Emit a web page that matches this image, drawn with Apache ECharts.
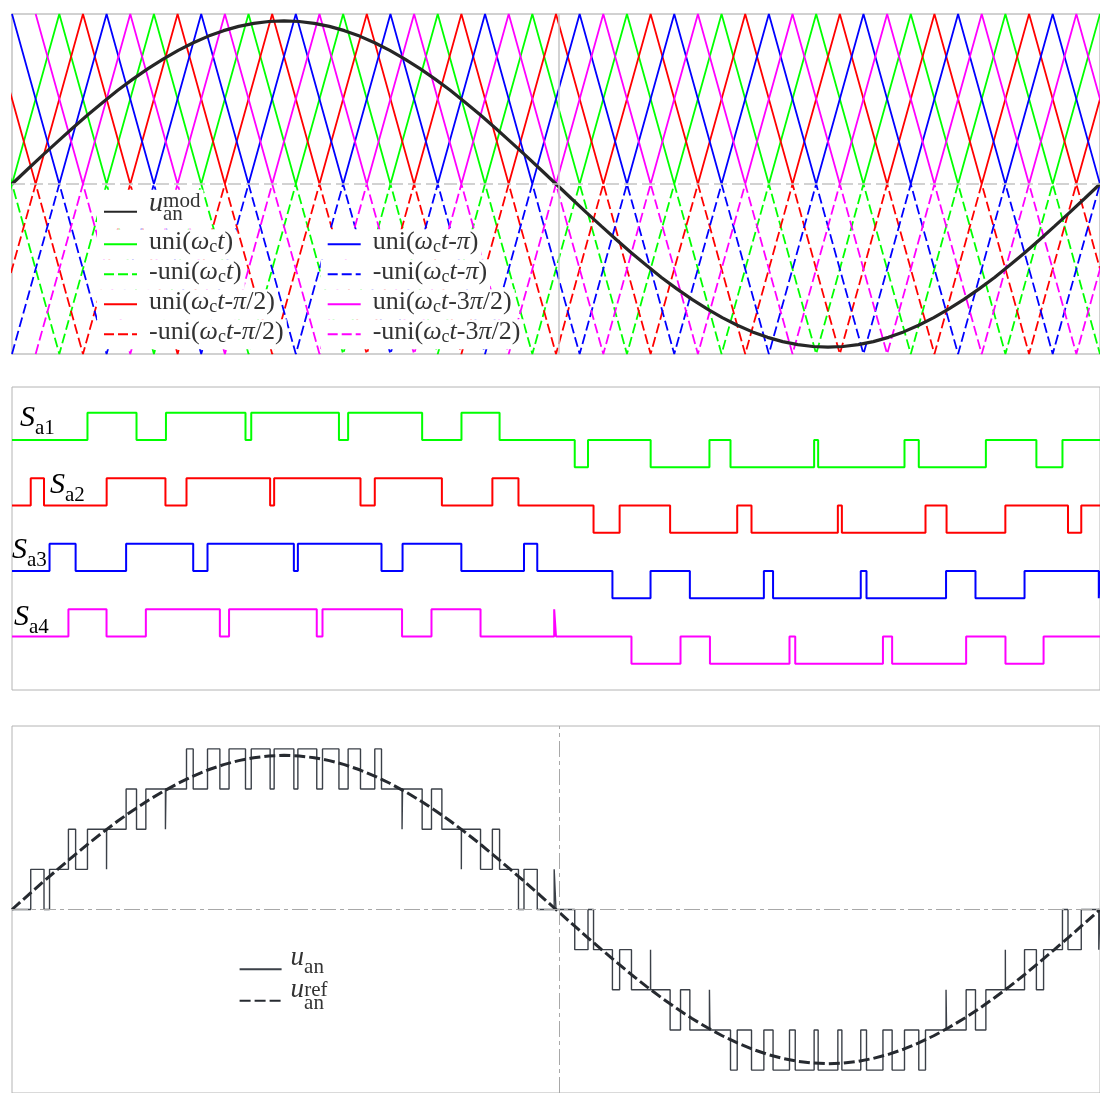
<!DOCTYPE html>
<html>
<head>
<meta charset="utf-8">
<title>Phase-shifted unipolar PWM, four cells</title>
<script src="https://cdn.jsdelivr.net/npm/echarts@6/dist/echarts.min.js"></script>
<style>
  html, body { margin: 0; padding: 0; background: #ffffff; }
  #chart { width: 1100px; height: 1093px; }
</style>
</head>
<body>
<div id="chart"></div>
<script>
// Angle axis: one fundamental period, in degrees (0 .. 360).

// Modulating wave u_an^mod (per unit), sampled every 5 degrees.
const modStepDeg = 5;
const modulation = [
  0, 0.084, 0.167, 0.248, 0.328, 0.406, 0.480, 0.551, 0.617, 0.679, 0.735, 0.786,
  0.831, 0.870, 0.902, 0.927, 0.945, 0.956, 0.960, 0.956, 0.945, 0.927, 0.902, 0.870,
  0.831, 0.786, 0.735, 0.679, 0.617, 0.551, 0.480, 0.406, 0.328, 0.248, 0.167, 0.084,
  0, -0.084, -0.167, -0.248, -0.328, -0.406, -0.480, -0.551, -0.617, -0.679, -0.735, -0.786,
  -0.831, -0.870, -0.902, -0.927, -0.945, -0.956, -0.960, -0.956, -0.945, -0.927, -0.902, -0.870,
  -0.831, -0.786, -0.735, -0.679, -0.617, -0.551, -0.480, -0.406, -0.328, -0.248, -0.167, -0.084,
  0
];

// Unipolar carrier uni(ωct): corner angles and levels (0 = trough, 1 = peak).
const carrierVertexDeg = [
  -15.65, 0.00, 15.65, 31.30, 46.96, 62.61, 78.26, 93.91, 109.57, 125.22, 140.87, 156.52,
  172.17, 187.83, 203.48, 219.13, 234.78, 250.43, 266.09, 281.74, 297.39, 313.04, 328.70,
  344.35, 360.00
];
const carrierVertexLevel = [1, 0, 1, 0, 1, 0, 1, 0, 1, 0, 1, 0, 1, 0, 1, 0, 1, 0, 1, 0, 1, 0, 1, 0, 1];

// Delay of each carrier (0, π/2, π, 3π/2 of the carrier period), degrees of the fundamental.
const carrierShiftDeg = [0, 7.83, 15.65, 23.48];
const carrierNames = ['uni(ωct)', 'uni(ωct-π/2)', 'uni(ωct-π)', 'uni(ωct-3π/2)'];
const carrierNegNames = ['-uni(ωct)', '-uni(ωct-π/2)', '-uni(ωct-π)', '-uni(ωct-3π/2)'];

// Gate signals: [on angle, off angle, level] for each pulse.
const sa1Pulses = [
  [24.97, 41.20, 1], [50.94, 77.26, 1], [79.16, 108.18, 1], [111.22, 135.71, 1], [148.72, 161.33, 1],
  [186.20, 190.59, -1], [211.32, 230.77, -1], [237.74, 265.41, -1], [266.74, 295.31, -1],
  [300.04, 322.24, -1], [338.95, 347.58, -1]
];
const sa2Pulses = [
  [6.20, 10.59, 1], [31.32, 50.77, 1], [57.74, 85.41, 1], [86.74, 115.31, 1], [120.04, 142.24, 1],
  [158.95, 167.58, 1],
  [192.42, 201.05, -1], [217.76, 239.96, -1], [244.69, 273.26, -1], [274.59, 302.26, -1],
  [309.23, 328.68, -1], [349.41, 353.80, -1]
];
const sa3Pulses = [
  [12.42, 21.05, 1], [37.76, 59.96, 1], [64.69, 93.26, 1], [94.59, 122.26, 1], [129.23, 148.68, 1],
  [169.41, 173.80, 1],
  [198.67, 211.28, -1], [224.29, 248.78, -1], [251.82, 280.84, -1], [282.74, 309.06, -1],
  [318.80, 335.03, -1], [359.60, 360.00, -1]
];
const sa4Pulses = [
  [18.67, 31.28, 1], [44.29, 68.78, 1], [71.82, 100.84, 1], [102.74, 129.06, 1], [138.80, 155.03, 1],
  [179.40, 180.00, 1],
  [204.97, 221.20, -1], [230.94, 257.26, -1], [259.16, 288.18, -1], [291.22, 315.71, -1],
  [328.72, 341.33, -1]
];
const gateLabels = ['a1', 'a2', 'a3', 'a4'];

const cellCount = 4;          // output levels per half wave
const halfPeriodMarkDeg = 181;

// ---------------------------------------------------------------------------
const SERIF = '"Liberation Serif", "DejaVu Serif", "Times New Roman", serif';
const INK = '#333333';
const COLORS = ['#00ff00', '#ff0000', '#0000ff', '#ff00ff'];
const GATE_ROW_GAP = 2.4;     // baseline spacing of the gate traces, in pulse heights

const modData = modulation.map((v, i) => [i * modStepDeg, v]);
const refData = modulation.map((v, i) => [i * modStepDeg, v * cellCount]);

function carrierData(shift, sign) {
  return carrierVertexDeg.map((t, i) => [t + shift, sign * carrierVertexLevel[i]]);
}

function gateData(pulses, row) {
  const base = -GATE_ROW_GAP * row;
  const pts = [[0, base]];
  pulses.forEach(([on, off, lvl]) => {
    pts.push([on, base], [on, base + lvl], [off, base + lvl], [off, base]);
  });
  pts.push([360, base]);
  return pts;
}

// Phase voltage: sum of the four cell outputs.
function phaseVoltage(allPulses) {
  const edges = [];
  allPulses.forEach(p => p.forEach(([on, off, lvl]) => { edges.push([on, lvl], [off, -lvl]); }));
  edges.sort((a, b) => a[0] - b[0]);
  let level = 0;
  const pts = [[0, 0]];
  edges.forEach(([t, d]) => { pts.push([t, level]); level += d; pts.push([t, level]); });
  pts.push([360, level]);
  return pts;
}

const allPulses = [sa1Pulses, sa2Pulses, sa3Pulses, sa4Pulses];

// ---------------------------------------------------------------------------
function tok(size, italic, pad, extra) {
  return Object.assign({
    fontFamily: SERIF, fontSize: size, fontStyle: italic ? 'italic' : 'normal',
    color: INK, padding: pad
  }, extra || {});
}

const carrierRich = {
  r0: tok(26, false, [0, 0, 4, 7]),
  r: tok(26, false, [0, 0, 4, 0]),
  i: tok(26, true, [0, 0, 4, 0]),
  c: tok(18, false, [6, 0, 0, 0])
};
const modRich = {
  u: tok(28, true, [0, 0, 16, 7]),
  an: tok(21, false, [6, 0, 0, 0], { width: 0.1 }),
  sup: tok(21, false, [0, 0, 21, 0])
};
const uanRich = {
  u: tok(27, true, [0, 0, 22, 4]),
  an: tok(21, false, [0, 0, 3, 0])
};
const refRich = {
  u: tok(27, true, [0, 0, 21, 4]),
  an: tok(21, false, [6, 0, 0, 0], { width: 0.1 }),
  sup: tok(21, false, [0, 0, 21, 0])
};

const legendText = {
  'u_an^mod': '{u|u}{an|an}{sup|mod}',
  'uni(ωct)': '{r0|uni(}{i|ω}{c|c}{i|t}{r|)}',
  '-uni(ωct)': '{r0|-uni(}{i|ω}{c|c}{i|t}{r|)}',
  'uni(ωct-π/2)': '{r0|uni(}{i|ω}{c|c}{i|t}{r|-}{i|π}{r|/2)}',
  '-uni(ωct-π/2)': '{r0|-uni(}{i|ω}{c|c}{i|t}{r|-}{i|π}{r|/2)}',
  'uni(ωct-π)': '{r0|uni(}{i|ω}{c|c}{i|t}{r|-}{i|π}{r|)}',
  '-uni(ωct-π)': '{r0|-uni(}{i|ω}{c|c}{i|t}{r|-}{i|π}{r|)}',
  'uni(ωct-3π/2)': '{r0|uni(}{i|ω}{c|c}{i|t}{r|-3}{i|π}{r|/2)}',
  '-uni(ωct-3π/2)': '{r0|-uni(}{i|ω}{c|c}{i|t}{r|-3}{i|π}{r|/2)}',
  'u_an': '{u|u}{an|an}',
  'u_an^ref': '{u|u}{an|an}{sup|ref}'
};

function legendBox(name, left, top, rich, lineHeight, iconWidth, white) {
  return {
    data: [name], left: left, top: top, orient: 'vertical',
    itemWidth: iconWidth, itemHeight: 14, itemGap: 0,
    padding: [0, 3, 0, 6], backgroundColor: white ? '#ffffff' : 'transparent',
    selectedMode: false, z: 10,
    itemStyle: { opacity: 0, borderWidth: 0 },
    textStyle: { fontFamily: SERIF, fontSize: 26, color: INK, lineHeight: lineHeight, rich: rich },
    formatter: n => legendText[n]
  };
}

const legends = [
  legendBox('u_an^mod', 97, 189.7, modRich, 34, 33, true),
  legendBox('uni(ωct)', 97, 229.3, carrierRich, 30, 33, true),
  legendBox('-uni(ωct)', 97, 259.3, carrierRich, 30, 33, true),
  legendBox('uni(ωct-π/2)', 97, 289.3, carrierRich, 30, 33, true),
  legendBox('-uni(ωct-π/2)', 97, 319.3, carrierRich, 30, 33, true),
  legendBox('uni(ωct-π)', 320.7, 229.3, carrierRich, 30, 33, true),
  legendBox('-uni(ωct-π)', 320.7, 259.3, carrierRich, 30, 33, true),
  legendBox('uni(ωct-3π/2)', 320.7, 289.3, carrierRich, 30, 33, true),
  legendBox('-uni(ωct-3π/2)', 320.7, 319.3, carrierRich, 30, 33, true),
  legendBox('u_an', 232.6, 944.8, uanRich, 30, 42, false),
  legendBox('u_an^ref', 232.6, 976.7, refRich, 30, 42, false)
];

// Gate signal names, drawn at the left end of each trace.
const gateLabelPos = [[20, 418], [50, 485], [12, 550], [14, 617]];
const gateRich = {
  s: tok(30, true, [0, 0, 0, 0], { lineHeight: 34 }),
  sub: tok(21, false, [20, 0, 0, 0], { lineHeight: 34 })
};
const graphics = gateLabels.map((lab, k) => ({
  type: 'text', x: gateLabelPos[k][0], y: gateLabelPos[k][1], z: 20,
  style: { text: '{s|S}{sub|' + lab + '}', rich: gateRich, align: 'left', verticalAlign: 'middle' }
}));

// ---------------------------------------------------------------------------
const series = [];

// Top panel guides
series.push({
  name: 'guides-top', type: 'line', xAxisIndex: 0, yAxisIndex: 0, z: 1,
  data: [[0, 0], [360, 0]], symbol: 'none', lineStyle: { opacity: 0 }, silent: true,
  markLine: {
    silent: true, symbol: 'none', label: { show: false }, animation: false,
    data: [
      { yAxis: 0, lineStyle: { color: '#c4c4c4', width: 1.5, type: [13, 5] } },
      { xAxis: halfPeriodMarkDeg, lineStyle: { color: '#c4c4c4', width: 1.5, type: 'solid' } }
    ]
  }
});

// Carriers: -uni (dashed, lower half) then uni (solid, upper half)
carrierShiftDeg.forEach((shift, k) => {
  series.push({
    name: carrierNegNames[k], type: 'line', xAxisIndex: 0, yAxisIndex: 0, z: 2,
    data: carrierData(shift, -1), symbol: 'none', clip: true,
    lineStyle: { color: COLORS[k], width: 1.8, type: [10, 4] }, itemStyle: { color: COLORS[k] }
  });
});
carrierShiftDeg.forEach((shift, k) => {
  series.push({
    name: carrierNames[k], type: 'line', xAxisIndex: 0, yAxisIndex: 0, z: 2,
    data: carrierData(shift, 1), symbol: 'none', clip: true,
    lineStyle: { color: COLORS[k], width: 1.8 }, itemStyle: { color: COLORS[k] }
  });
});

series.push({
  name: 'u_an^mod', type: 'line', xAxisIndex: 0, yAxisIndex: 0, z: 3,
  data: modData, symbol: 'none', clip: true,
  lineStyle: { color: '#262626', width: 3.2 }, itemStyle: { color: '#262626' }
});

// Gate signals
allPulses.forEach((p, k) => {
  series.push({
    name: 'S_' + gateLabels[k], type: 'line', xAxisIndex: 1, yAxisIndex: 1, z: 2,
    data: gateData(p, k), symbol: 'none', clip: true,
    lineStyle: { color: COLORS[k], width: 2 }
  });
});

// Bottom panel: output phase voltage and its reference
series.push({
  name: 'guides-bottom', type: 'line', xAxisIndex: 2, yAxisIndex: 2, z: 1,
  data: [[0, 0], [360, 0]], symbol: 'none', lineStyle: { opacity: 0 }, silent: true,
  markLine: {
    silent: true, symbol: 'none', label: { show: false }, animation: false,
    lineStyle: { color: '#a8a8a8', width: 1, type: [16, 4, 4, 4] },
    data: [{ yAxis: 0 }, { xAxis: halfPeriodMarkDeg }]
  }
});
series.push({
  name: 'u_an', type: 'line', xAxisIndex: 2, yAxisIndex: 2, z: 2,
  data: phaseVoltage(allPulses), symbol: 'none', clip: true,
  lineStyle: { color: '#3b4048', width: 1.4 }, itemStyle: { color: '#3b4048' }
});
series.push({
  name: 'u_an^ref', type: 'line', xAxisIndex: 2, yAxisIndex: 2, z: 3,
  data: refData, symbol: 'none', clip: true,
  lineStyle: { color: '#262a30', width: 3, type: [11, 4] }, itemStyle: { color: '#262a30' }
});

const option = {
  animation: false,
  backgroundColor: '#ffffff',
  grid: [
    { left: 12, top: 14, width: 1088, height: 340, show: true, borderColor: '#c2c2c2', borderWidth: 1.5 },
    { left: 12, top: 387, width: 1088, height: 303, show: true, borderColor: '#b4b4b4', borderWidth: 1 },
    { left: 12, top: 726, width: 1088, height: 372, show: true, borderColor: '#b4b4b4', borderWidth: 1 }
  ],
  xAxis: [0, 1, 2].map(i => ({ type: 'value', gridIndex: i, min: 0, max: 360, show: false })),
  yAxis: [
    { type: 'value', gridIndex: 0, min: -1, max: 1, show: false },
    { type: 'value', gridIndex: 1, min: -9.16, max: 1.94, show: false },
    { type: 'value', gridIndex: 2, min: -4.57, max: 4.57, show: false }
  ],
  legend: legends,
  graphic: graphics,
  series: series
};

const chart = echarts.init(document.getElementById('chart'), null, { renderer: 'canvas' });
chart.setOption(option);
</script>
</body>
</html>
